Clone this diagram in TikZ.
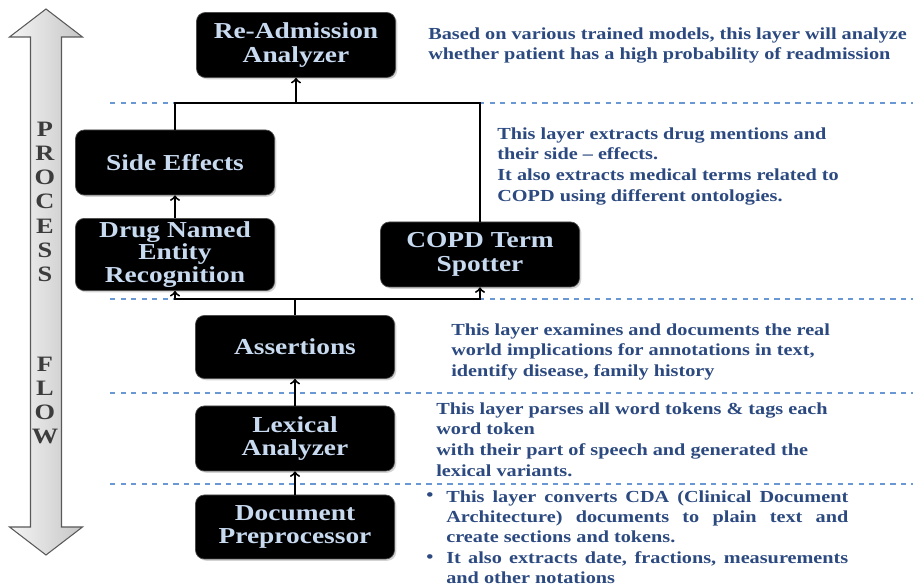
\documentclass[tikz,border=0pt]{standalone}
\usepackage{fontspec}
\usepackage{tikz}
\usepackage{xcolor}
\usetikzlibrary{shadows}
\setmainfont{Liberation Serif}[FakeStretch=1.2]

\definecolor{boxtext}{RGB}{200,218,240}
\definecolor{desctext}{RGB}{44,74,128}
\definecolor{layerline}{RGB}{105,152,212}
\definecolor{flowtext}{RGB}{60,60,60}

\tikzset{
  layer/.style={draw=gray!60!black, fill=black, rounded corners=5pt,
    minimum width=3.98cm, minimum height=1.3cm, inner sep=2pt, align=center,
    text=boxtext, font=\fontsize{13}{13.6}\selectfont\bfseries,
    drop shadow={opacity=0.35, shadow xshift=1pt, shadow yshift=-1pt}},
  desc/.style={anchor=north west, inner sep=0pt, align=left, text=desctext,
    font=\fontsize{9.6}{11.8}\selectfont\bfseries},
  layersep/.style={dashed, draw=layerline, line width=0.6pt},
  conn/.style={->, line width=1.1pt}
}

\begin{document}
\begin{tikzpicture}
    \useasboundingbox (0,0) rectangle (18.26,-11.76);

    % process flow arrow
    \shade[left color=gray!8, right color=gray!45, draw=gray!70!black, line width=0.6pt]
        (0.92,-0.18) -- (1.65,-0.74) -- (1.23,-0.74) -- (1.23,-10.54) -- (1.65,-10.54)
        -- (0.92,-11.10) -- (0.19,-10.54) -- (0.61,-10.54) -- (0.61,-0.74) -- (0.19,-0.74) -- cycle;
    \node (process) at (0.9,-2.44) [anchor=north, align=center, inner sep=0pt, text=flowtext,
        font=\fontsize{12.5}{13.7}\selectfont\bfseries] {P\\R\\O\\C\\E\\S\\S};
    \node (flow) at (0.9,-7.14) [anchor=north, align=center, inner sep=0pt, text=flowtext,
        font=\fontsize{12.5}{13.7}\selectfont\bfseries] {F\\L\\O\\W};

    % layer separators
    \draw[layersep] (2.2,-2.06) -- (18.26,-2.06);
    \draw[layersep] (2.2,-5.98) -- (18.26,-5.98);
    \draw[layersep] (2.2,-7.86) -- (18.26,-7.86);
    \draw[layersep] (2.2,-9.68) -- (18.26,-9.68);

    % layers
    \node (readm) at (5.92,-0.90) [layer] {Re-Admission\\Analyzer};
    \node (side) at (3.50,-3.25) [layer] {Side Effects};
    \node (drug) at (3.50,-5.09) [layer, font=\fontsize{13}{12.6}\selectfont\bfseries] {Drug Named\\Entity\\Recognition};
    \node (copd) at (9.60,-5.09) [layer] {COPD Term\\Spotter};
    \node (assert) at (5.90,-6.94) [layer, minimum height=1.26cm] {Assertions};
    \node (lexical) at (5.90,-8.77) [layer] {Lexical\\Analyzer};
    \node (docpre) at (5.90,-10.54) [layer, minimum height=1.28cm] {Document\\Preprocessor};

    \coordinate (topbus) at (5.92,-2.06);
    \coordinate (midbus) at (5.90,-5.98);

    \draw[line width=1.1pt] (side.north) |- (topbus) -| (copd.north);
    \draw[conn] (topbus) -- (readm.south);
    \draw[conn] (drug.north) -- (side.south);
    \draw[line width=1.1pt] (assert.north) -- (midbus);
    \draw[conn] (midbus) -| (drug.south);
    \draw[conn] (midbus) -| (copd.south);
    \draw[conn] (lexical.north) -- (assert.south);
    \draw[conn] (docpre.north) -- (lexical.south);

    % descriptions
    \node (readmdesc) at (8.56,-0.54) [desc] {Based on various trained models, this layer will analyze\\whether patient has a high probability of readmission};
    \node (termdesc) at (9.94,-2.54) [desc] {This layer extracts drug mentions and\\their side -- effects.\\It also extracts medical terms related to\\COPD using different ontologies.};
    \node (assertdesc) at (9.02,-6.46) [desc] {This layer examines and documents the real\\world implications for annotations in text,\\identify disease, family history};
    \node (lexdesc) at (8.72,-8.04) [desc] {This layer parses all word tokens \& tags each\\word token\\with their part of speech and generated the\\lexical variants.};
    \node (docdesc) at (8.92,-9.80) [desc, font=\fontsize{9.6}{11.6}\selectfont\bfseries] {\makebox[8.04cm][s]{This layer converts CDA (Clinical Document}\\
        \makebox[8.04cm][s]{Architecture) documents to plain text and}\\
        create sections and tokens.\\
        \makebox[8.04cm][s]{It also extracts date, fractions, measurements}\\
        and other notations};
    \node (bullet1) at (8.6,-10.02) [anchor=base, inner sep=0pt, text=desctext, font=\fontsize{9.6}{11.6}\selectfont\bfseries] {\textbullet};
    \node (bullet2) at (8.6,-11.25) [anchor=base, inner sep=0pt, text=desctext, font=\fontsize{9.6}{11.6}\selectfont\bfseries] {\textbullet};
\end{tikzpicture}
\end{document}
